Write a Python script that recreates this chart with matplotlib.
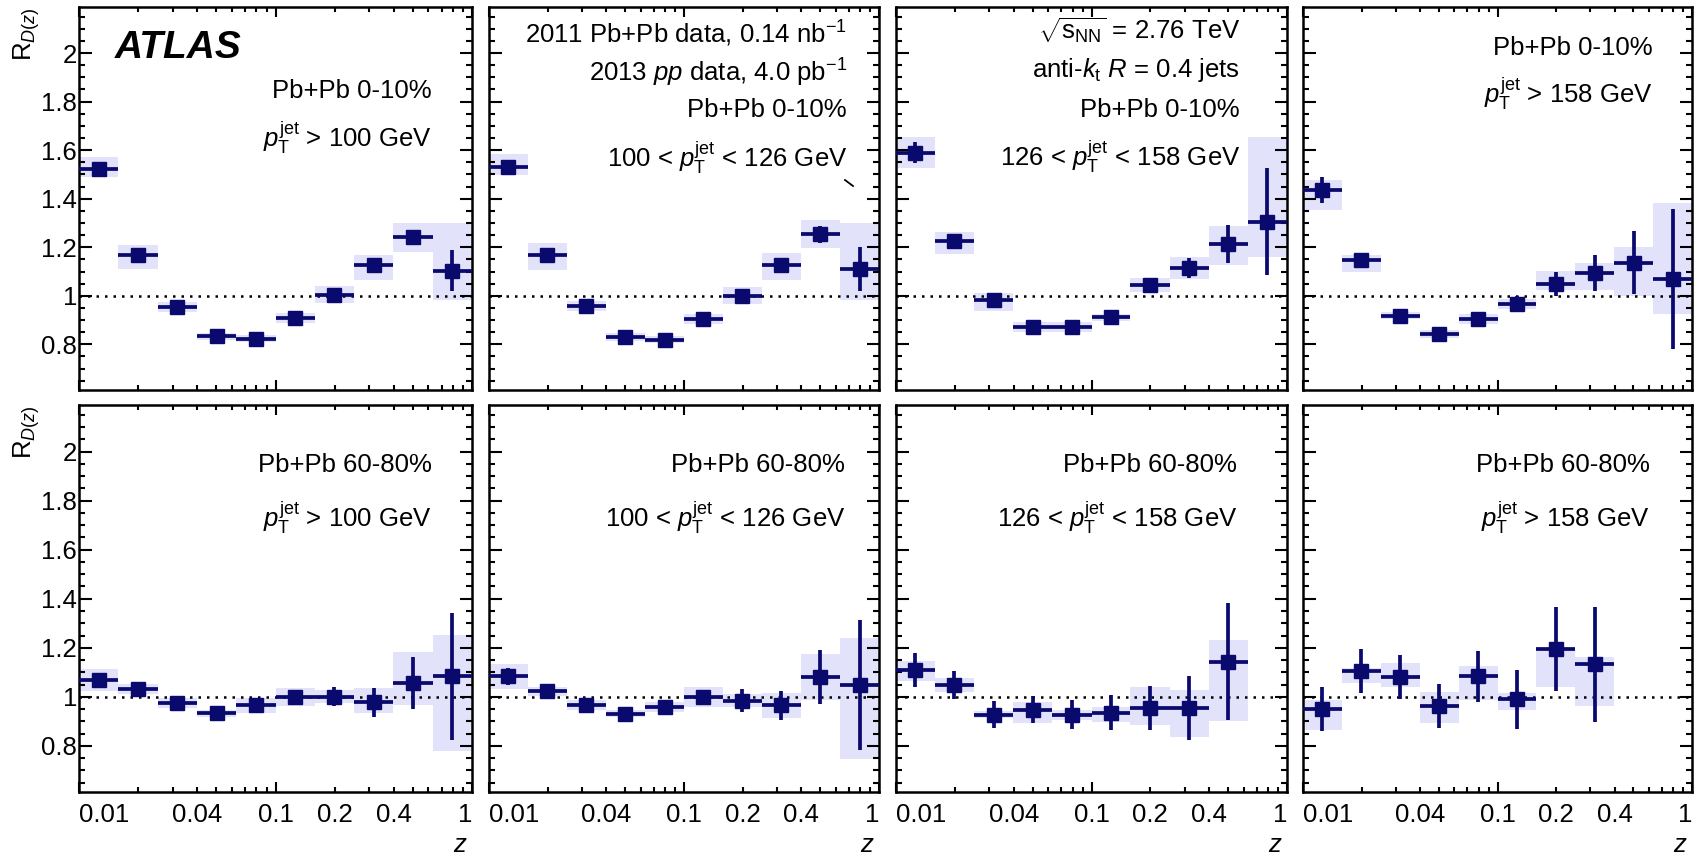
import numpy as np
import matplotlib
matplotlib.use("Agg")
import matplotlib.pyplot as plt
from matplotlib.ticker import FixedLocator, FixedFormatter
from matplotlib.lines import Line2D

plt.rcParams['font.family'] = ['Liberation Sans', 'DejaVu Sans']
plt.rcParams['mathtext.fontset'] = 'custom'
plt.rcParams['mathtext.rm'] = 'Liberation Sans'
plt.rcParams['mathtext.it'] = 'Liberation Sans:italic'
plt.rcParams['mathtext.bf'] = 'Liberation Sans:bold'

# z bin edges (log bins, 0.2 decades wide)
z_edges = [0.01, 0.0158, 0.0251, 0.0398, 0.0631, 0.1, 0.158, 0.251, 0.398, 0.631, 1.0]

# Pb+Pb 0-10%, four jet pT selections
rd_c0_100 = [1.523, 1.169, 0.953, 0.833, 0.823, 0.908, 1.004, 1.125, 1.241, 1.104]
stat_c0_100 = [0.008, 0.01, 0.01, 0.01, 0.01, 0.01, 0.012, 0.015, 0.03, 0.085]
sysu_c0_100 = [0.048, 0.04, 0.02, 0.015, 0.015, 0.02, 0.035, 0.044, 0.059, 0.196]
sysd_c0_100 = [0.032, 0.06, 0.02, 0.015, 0.015, 0.02, 0.035, 0.059, 0.061, 0.12]

rd_c0_126 = [1.532, 1.169, 0.959, 0.830, 0.819, 0.904, 1.001, 1.128, 1.254, 1.11]
stat_c0_126 = [0.008, 0.01, 0.01, 0.01, 0.01, 0.01, 0.012, 0.015, 0.035, 0.09]
sysu_c0_126 = [0.052, 0.048, 0.02, 0.015, 0.015, 0.02, 0.035, 0.048, 0.059, 0.19]
sysd_c0_126 = [0.034, 0.062, 0.02, 0.015, 0.015, 0.02, 0.035, 0.062, 0.058, 0.126]

rd_c0_158 = [1.590, 1.224, 0.984, 0.871, 0.871, 0.912, 1.045, 1.114, 1.213, 1.306]
stat_c0_158 = [0.045, 0.012, 0.02, 0.012, 0.012, 0.012, 0.02, 0.04, 0.077, 0.22]
sysu_c0_158 = [0.066, 0.038, 0.027, 0.02, 0.02, 0.015, 0.028, 0.045, 0.075, 0.35]
sysd_c0_158 = [0.065, 0.051, 0.048, 0.02, 0.02, 0.015, 0.03, 0.045, 0.085, 0.145]

rd_c0_hi = [1.436, 1.148, 0.918, 0.842, 0.905, 0.966, 1.048, 1.093, 1.137, 1.069]
stat_c0_hi = [0.052, 0.025, 0.012, 0.012, 0.015, 0.034, 0.05, 0.073, 0.13, 0.288]
sysu_c0_hi = [0.041, 0.021, 0.015, 0.015, 0.02, 0.02, 0.055, 0.044, 0.066, 0.315]
sysd_c0_hi = [0.082, 0.048, 0.015, 0.015, 0.02, 0.02, 0.023, 0.068, 0.139, 0.144]

# Pb+Pb 60-80%
rd_c60_100 = [1.069, 1.031, 0.974, 0.933, 0.966, 0.999, 1.001, 0.977, 1.056, 1.083]
stat_c60_100 = [0.02, 0.015, 0.012, 0.012, 0.015, 0.025, 0.04, 0.058, 0.105, 0.26]
sysu_c60_100 = [0.044, 0.02, 0.02, 0.015, 0.03, 0.037, 0.025, 0.058, 0.126, 0.17]
sysd_c60_100 = [0.047, 0.02, 0.02, 0.015, 0.03, 0.037, 0.025, 0.041, 0.089, 0.303]

rd_c60_126 = [1.083, 1.022, 0.967, 0.931, 0.958, 0.999, 0.985, 0.965, 1.08, 1.049]
stat_c60_126 = [0.035, 0.015, 0.012, 0.012, 0.015, 0.025, 0.045, 0.06, 0.11, 0.265]
sysu_c60_126 = [0.052, 0.02, 0.02, 0.015, 0.02, 0.04, 0.025, 0.05, 0.094, 0.19]
sysd_c60_126 = [0.052, 0.02, 0.02, 0.015, 0.02, 0.04, 0.025, 0.05, 0.092, 0.303]

rd_c60_158 = [1.11, 1.049, 0.927, 0.947, 0.927, 0.936, 0.954, 0.954, 1.144]
stat_c60_158 = [0.07, 0.058, 0.055, 0.055, 0.06, 0.07, 0.09, 0.13, 0.24]
sysu_c60_158 = [0.038, 0.027, 0.015, 0.03, 0.02, 0.024, 0.088, 0.075, 0.089]
sysd_c60_158 = [0.047, 0.031, 0.015, 0.054, 0.02, 0.037, 0.068, 0.116, 0.244]

rd_c60_hi = [0.95, 1.107, 1.08, 0.961, 1.083, 0.99, 1.195, 1.133]
stat_c60_hi = [0.09, 0.09, 0.09, 0.09, 0.105, 0.12, 0.17, 0.235]
sysu_c60_hi = [0.038, 0.01, 0.057, 0.057, 0.041, 0.025, 0.006, 0.029]
sysd_c60_hi = [0.085, 0.051, 0.038, 0.068, 0.095, 0.043, 0.153, 0.17]

panels = [
    [(rd_c0_100, stat_c0_100, sysu_c0_100, sysd_c0_100),
     (rd_c0_126, stat_c0_126, sysu_c0_126, sysd_c0_126),
     (rd_c0_158, stat_c0_158, sysu_c0_158, sysd_c0_158),
     (rd_c0_hi, stat_c0_hi, sysu_c0_hi, sysd_c0_hi)],
    [(rd_c60_100, stat_c60_100, sysu_c60_100, sysd_c60_100),
     (rd_c60_126, stat_c60_126, sysu_c60_126, sysd_c60_126),
     (rd_c60_158, stat_c60_158, sysu_c60_158, sysd_c60_158),
     (rd_c60_hi, stat_c60_hi, sysu_c60_hi, sysd_c60_hi)],
]

ptj = r"$p_{\mathrm{T}}^{\mathrm{jet}}$"
labels = [
    [["Pb+Pb 0-10%", ptj + " > 100 GeV"],
     ["2011 Pb+Pb data, 0.14 nb$^{-1}$", "2013 $pp$ data, 4.0 pb$^{-1}$",
      "Pb+Pb 0-10%", "100 < " + ptj + " < 126 GeV"],
     [r"$\sqrt{\mathrm{s}_{\mathrm{NN}}}$ = 2.76 TeV", r"anti-$k_{\mathrm{t}}$ $R$ = 0.4 jets",
      "Pb+Pb 0-10%", "126 < " + ptj + " < 158 GeV"],
     ["Pb+Pb 0-10%", ptj + " > 158 GeV"]],
    [["Pb+Pb 60-80%", ptj + " > 100 GeV"],
     ["Pb+Pb 60-80%", "100 < " + ptj + " < 126 GeV"],
     ["Pb+Pb 60-80%", "126 < " + ptj + " < 158 GeV"],
     ["Pb+Pb 60-80%", ptj + " > 158 GeV"]],
]
label_y = [
    [[0.762, 0.634], [0.906, 0.804, 0.713, 0.582], [0.914, 0.817, 0.713, 0.585], [0.875, 0.749]],
    [[0.827, 0.685], [0.827, 0.685], [0.827, 0.685], [0.827, 0.685]],
]
label_x = [[0.898, 0.918, 0.88, 0.90], [0.898, 0.913, 0.872, 0.892]]

navy = "#0a0a6e"
band = "#e2e2fa"
fs = 18.5

W, H = 1696, 855
col_left = [79, 489, 896, 1303]
col_w = [393, 390, 391, 389]
row_bottom = [0.5439, 0.0737]
row_h = [0.448, 0.4526]

fig = plt.figure(figsize=(W / 100, H / 100), dpi=100)

edges = np.array(z_edges)
for r in range(2):
    for c in range(4):
        ax = fig.add_axes([col_left[c] / W, row_bottom[r], col_w[c] / W, row_h[r]])
        vals, stat, su, sd = [np.array(a) for a in panels[r][c]]
        n = len(vals)
        lo = edges[:n]
        hi = edges[1:n + 1]
        ctr = np.sqrt(lo * hi)

        # systematic boxes
        ax.bar(lo, su + sd, width=hi - lo, bottom=vals - sd, align='edge',
               color=band, edgecolor='none', zorder=1)
        ax.axhline(1.0, color='black', lw=1.8, ls=(0, (1.0, 2.4)), zorder=2)
        ax.errorbar(ctr, vals, xerr=[ctr - lo, hi - ctr], yerr=stat, fmt='s',
                    ms=10.5, color=navy, ecolor=navy, elinewidth=2.7, capsize=0, zorder=3)

        ax.set_xscale('log')
        ax.set_xlim(0.01, 1.0)
        ax.set_ylim(0.612, 2.19)

        # x ticks
        ax.xaxis.set_major_locator(FixedLocator([0.01, 0.1, 1.0]))
        minors = [m * d for d in [0.01, 0.1] for m in range(2, 10)]
        ax.xaxis.set_minor_locator(FixedLocator(minors))
        if r == 1:
            ax.xaxis.set_major_formatter(FixedFormatter(["0.01", "0.1", "1"]))
            ax.xaxis.set_minor_formatter(FixedFormatter(
                ["0.04" if abs(m - 0.04) < 1e-9 else "0.2" if abs(m - 0.2) < 1e-9
                 else "0.4" if abs(m - 0.4) < 1e-9 else "" for m in minors]))
        else:
            ax.xaxis.set_major_formatter(FixedFormatter(["", "", ""]))
            ax.xaxis.set_minor_formatter(FixedFormatter([""] * len(minors)))

        # y ticks
        ax.yaxis.set_major_locator(FixedLocator([0.8, 1.0, 1.2, 1.4, 1.6, 1.8, 2.0]))
        ax.yaxis.set_minor_locator(FixedLocator(np.arange(0.65, 2.19, 0.05)))
        if c == 0:
            ax.yaxis.set_major_formatter(FixedFormatter(["0.8", "1", "1.2", "1.4", "1.6", "1.8", "2"]))
        else:
            ax.yaxis.set_major_formatter(FixedFormatter([""] * 7))

        ax.tick_params(axis='both', which='both', direction='in', top=True, right=True,
                       width=1.5, labelsize=fs, colors='black')
        ax.tick_params(axis='y', which='major', length=9, pad=1.5)
        ax.tick_params(axis='y', which='minor', length=4.5)
        ax.tick_params(axis='x', which='major', length=7, pad=8)
        ax.tick_params(axis='x', which='minor', length=3.6, pad=8)
        for sp in ax.spines.values():
            sp.set_linewidth(1.8)

        if r == 1:
            ticklabels = ax.get_xticklabels()
            ticklabels[0].set_horizontalalignment('left')
            ticklabels[-1].set_horizontalalignment('right')
            ax.text(0.99, -0.155, "$z$", transform=ax.transAxes, ha='right',
                    va='baseline', fontsize=fs)

        if c == 0:
            ax.text(-0.132, 1.0, r"$\mathrm{R}_{D(z)}$", transform=ax.transAxes,
                    rotation=90, ha='center', va='top', fontsize=fs)

        for txt, yy in zip(labels[r][c], label_y[r][c]):
            ax.text(label_x[r][c], yy, txt, transform=ax.transAxes, ha='right',
                    va='baseline', fontsize=fs)

        if r == 0 and c == 0:
            ax.text(0.092, 0.867, "ATLAS", transform=ax.transAxes, ha='left',
                    va='baseline', fontsize=28, fontweight='bold', fontstyle='italic')

# small stray mark present in the original figure
fig.add_artist(Line2D([845 / W, 853 / W], [1 - 180 / H, 1 - 186 / H],
                      transform=fig.transFigure, color='black', lw=1.3))

fig.savefig("out.png", dpi=100)
